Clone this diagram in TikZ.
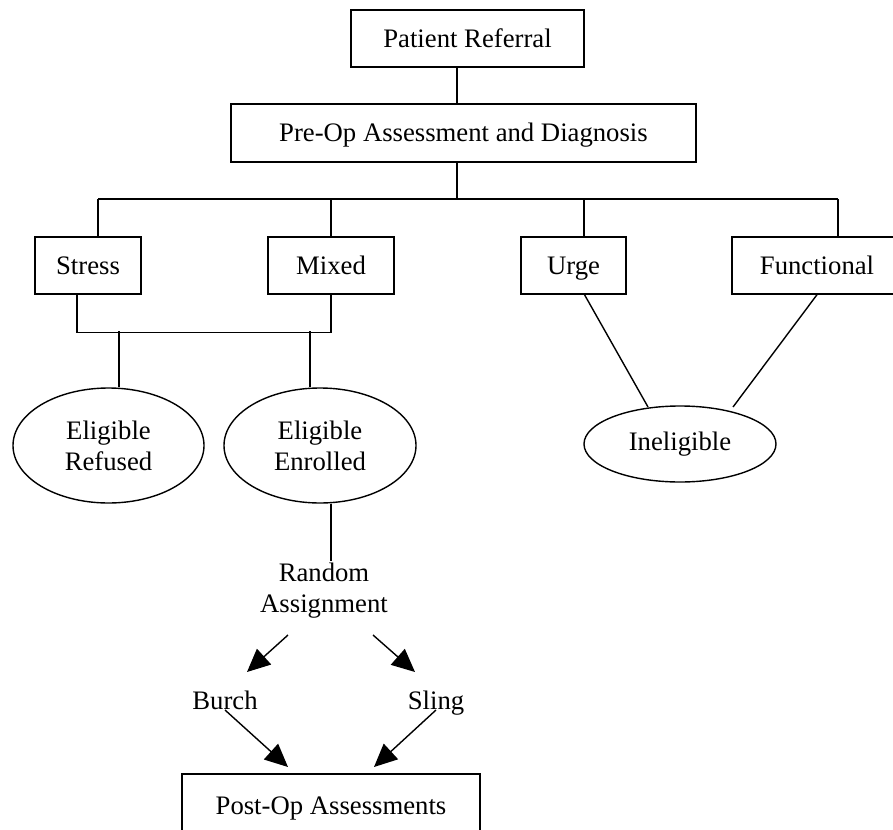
\documentclass[tikz,border=0pt]{standalone}
\usepackage{fontspec}
\setmainfont{Liberation Serif}
\usetikzlibrary{arrows.meta, calc, shapes.geometric}

\begin{document}
\begin{tikzpicture}[x=1pt, y=-1pt, line width=1.4pt, >={Triangle[length=23pt, width=21pt]},
    font=\fontsize{26.7}{31}\selectfont,
    box/.style={draw, rectangle, inner sep=0pt, minimum height=57pt, text height=18pt, text depth=0pt},
    oval/.style={draw, ellipse, inner sep=0pt, align=center},
    txt/.style={inner sep=0pt, align=center},
    word/.style={inner sep=0pt, text height=18pt, text depth=0pt}]
    \clip (0,0) rectangle (893,829);
    \node[box, minimum width=233pt] (referral) at (467.5,38.5) {Patient Referral};
    \node[box, minimum width=465pt, minimum height=58pt] (preop) at (463.5,133) {Pre-Op Assessment and Diagnosis};
    \node[box, minimum width=106pt] (stress) at (88,265.5) {Stress};
    \node[box, minimum width=126pt] (mixed) at (331,265.5) {Mixed};
    \node[box, minimum width=105pt] (urge) at (573.5,265.5) {Urge};
    \node[box, minimum width=170pt] (functional) at (817,265.5) {Functional};
    \node[oval, minimum width=191pt, minimum height=115pt] (refused) at (108.5,445.5) {Eligible\\Refused};
    \node[oval, minimum width=192pt, minimum height=115pt] (enrolled) at (320,445.5) {Eligible\\Enrolled};
    \node[oval, minimum width=192pt, minimum height=76pt] (ineligible) at (680,444) {Ineligible};
    \node[txt] (assign) at (324,591) {Random\\Assignment};
    \node[word] (burch) at (225,700) {Burch};
    \node[word] (sling) at (436,700) {Sling};
    \node[box, minimum width=298pt, minimum height=62pt] (postop) at (331,805) {Post-Op Assessments};
    \coordinate (top) at (457,199);
    \coordinate (busL) at (98,199);
    \coordinate (busR) at (838,199);
    \draw (referral.south -| top) -- (preop.north -| top);
    \draw (preop.south -| top) -- (top);
    \draw (busL) -- (busR);
    \draw (busL) -- (busL |- stress.north);
    \draw (mixed.north) -- (mixed.north |- top);
    \draw ([xshift=10.5pt]urge.north) -- ([xshift=10.5pt]urge.north |- top);
    \draw (busR) -- (busR |- functional.north);
    \draw ([xshift=-11pt]stress.south) -- ++(0,38) -| (mixed.south);
    \draw ([xshift=10.5pt]refused.north) -- ++(0,-56);
    \draw ([xshift=-10pt]enrolled.north) -- ++(0,-56);
    \draw ([xshift=11pt]enrolled.south) -- ++(0,57);
    \draw ([xshift=11pt]urge.south) -- ($(ineligible.center)+(-32,-37)$);
    \draw (functional.south) -- ($(ineligible.center)+(53,-37)$);
    \draw[->] ($(assign.center)+(-36,44)$) -- ($(burch.center)+(22,-28)$);
    \draw[->] ($(assign.center)+(49,44)$) -- ($(sling.center)+(-21,-28)$);
    \draw[->] ($(burch.center)+(0,10)$) -- ($(postop.center)+(-43,-38)$);
    \draw[->] ($(sling.center)+(0,10)$) -- ($(postop.center)+(43,-38)$);
\end{tikzpicture}
\end{document}
